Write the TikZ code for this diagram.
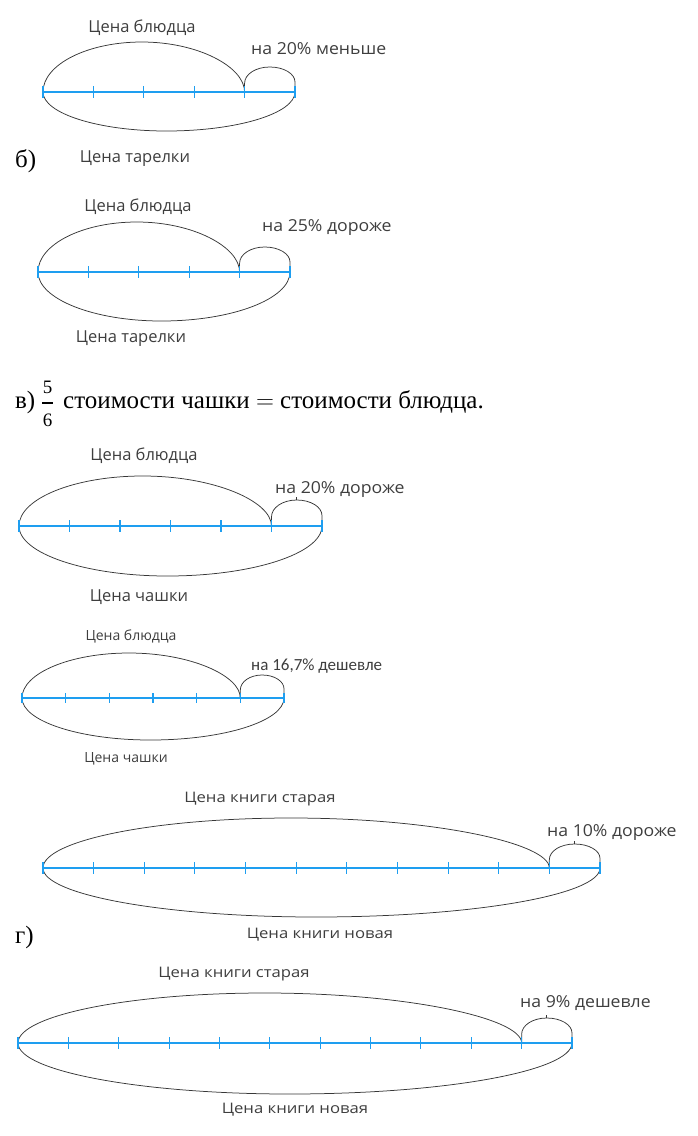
\documentclass[tikz,border=0pt]{standalone}
\usepackage{fontspec}
\setmainfont{Liberation Serif}
\newfontfamily\lblfont{Open Sans}
\newfontfamily\pctfont[FakeStretch=1.07]{Open Sans}
\newfontfamily\widefont[FakeStretch=1.15]{Open Sans}
\newfontfamily\lblcfont{Carlito}
\definecolor{lineblue}{RGB}{30,158,240}
\definecolor{loopgray}{RGB}{55,55,55}
\definecolor{txtgray}{RGB}{62,62,62}
\tikzset{
  loopline/.style={draw=loopgray, line width=0.75pt},
  numline/.style={draw=lineblue, line width=1.6pt},
  tickline/.style={draw=lineblue, line width=1.1pt},
  lab/.style={text=txtgray, font=\lblfont\fontsize{16.5}{18}\selectfont, inner sep=0pt},
  pct/.style={text=txtgray, font=\pctfont\fontsize{16.5}{18}\selectfont, inner sep=0pt},
  labsm/.style={text=txtgray, font=\lblfont\fontsize{14}{16}\selectfont, inner sep=0pt},
  labn/.style={text=txtgray, font=\widefont\fontsize{14.5}{16}\selectfont, inner sep=0pt},
  labc/.style={text=txtgray, font=\lblcfont\fontsize{17}{18}\selectfont, inner sep=0pt},
  serif/.style={text=black, font=\fontsize{25}{28}\selectfont, inner sep=0pt},
  fracdig/.style={text=black, font=\fontsize{19}{20}\selectfont, inner sep=0pt},
  fracbar/.style={draw=black, line width=1.1pt}
}
% #1 name, #2 x0, #3 x1, #4 n, #5 y, #6 ytop, #7 ysmall, #8 ybottom, #9 tick half length
\newcommand{\loopdiag}[9]{%
  \pgfmathsetmacro{\dgD}{(#3-#2)/#4}%
  \pgfmathsetmacro{\dgK}{#3-\dgD}%
  \pgfmathsetmacro{\dgP}{#2+0.49*(\dgK-#2)}%
  \pgfmathsetmacro{\dgQ}{#2+0.49*(#3-#2)}%
  \pgfmathsetmacro{\dgHt}{#5-#6}%
  \pgfmathsetmacro{\dgHb}{#8-#5}%
  \pgfmathsetmacro{\dgHs}{#5-#7}%
  \coordinate (#1L) at (#2,#5);
  \coordinate (#1K) at (\dgK,#5);
  \coordinate (#1R) at (#3,#5);
  \coordinate (#1T) at (\dgP,#6);
  \coordinate (#1B) at (\dgQ,#8);
  \coordinate (#1S) at ({\dgK+0.5*\dgD},#7);
  \draw[loopline] (#1L) .. controls (#2,{#5-0.55*\dgHt}) and ({\dgP-0.55*(\dgP-#2)},#6) .. (#1T)
     .. controls ({\dgP+0.55*(\dgK-\dgP)},#6) and (\dgK,{#5-0.5*\dgHt}) .. (#1K);
  \draw[loopline] (#1L) .. controls (#2,{#5+0.55*\dgHb}) and ({\dgQ-0.55*(\dgQ-#2)},#8) .. (#1B)
     .. controls ({\dgQ+0.55*(#3-\dgQ)},#8) and (#3,{#5+0.55*\dgHb}) .. (#1R);
  \draw[loopline] (#1K) -- (\dgK,{#5-0.35*\dgHs})
     .. controls (\dgK,{#5-0.35*\dgHs-0.36*\dgHs}) and ({\dgK+0.22*\dgD},#7) .. (#1S)
     .. controls ({\dgK+0.78*\dgD},#7) and (#3,{#5-0.4*\dgHs-0.33*\dgHs}) .. (#3,{#5-0.4*\dgHs}) -- (#1R);
  \draw[numline] (#1L) -- (#1R);
  \foreach \i in {0,...,#4} {
    \pgfmathsetmacro{\dgX}{#2+\i*\dgD}
    \draw[tickline] (\dgX,{#5-#9}) -- (\dgX,{#5+#9});
  }
}
\begin{document}
\begin{tikzpicture}[x=1pt,y=-1pt]
\path[use as bounding box] (0,0) rectangle (698,1136);

% ---- b) first diagram
\loopdiag{da}{43}{295}{5}{92}{42}{67}{131}{6}
\node[lab, anchor=base] (da1) at (142,32) {Цена блюдца};
\node[pct, anchor=base west] (da2) at (251,54) {на 20\% меньше};
\node[lab, anchor=base] (da3) at (135,162) {Цена тарелки};
\node[serif, anchor=base west] (hb) at (15,167) {б)};

% ---- b) second diagram
\loopdiag{db}{38}{290}{5}{272}{222}{247}{321}{6}
\node[lab, anchor=base] (db1) at (138,211) {Цена блюдца};
\node[pct, anchor=base west] (db2) at (262,231) {на 25\% дороже};
\node[lab, anchor=base] (db3) at (131,342) {Цена тарелки};

% ---- v) heading
\node[serif, anchor=base west] (hv) at (15,408) {в)};
\node[fracdig] (f5) at (47.5,387) {5};
\node[fracdig] (f6) at (47.5,420) {6};
\coordinate (fa) at (42,403);
\coordinate (fb) at (53,403);
\draw[fracbar] (fa) -- (fb);
\node[serif, anchor=base west] (hvt) at (63,408) {стоимости чашки $=$ стоимости блюдца.};

% ---- v) first diagram
\loopdiag{dc}{19}{322}{6}{526}{476}{500}{576}{6}
\draw[loopline] (dcS) -- ++(0,-3);
\node[lab, anchor=base] (dc1) at (144,460) {Цена блюдца};
\node[pct, anchor=base west] (dc2) at (275,493) {на 20\% дороже};
\node[lab, anchor=base] (dc3) at (139,601) {Цена чашки};

% ---- v) second diagram
\loopdiag{dd}{22}{284}{6}{698}{653}{675}{740}{5}
\node[labsm, anchor=base] (dd1) at (131,640) {Цена блюдца};
\node[labc, anchor=base west] (dd2) at (251,670) {на 16,7\% дешевле};
\node[labsm, anchor=base] (dd3) at (126,762) {Цена чашки};

% ---- g) first diagram
\loopdiag{de}{43}{600}{11}{868}{818}{844}{917}{6}
\draw[loopline] (deS) -- ++(0,-3);
\node[labn, anchor=base] (de1) at (260,802) {Цена книги старая};
\node[pct, anchor=base west] (de2) at (547,836) {на 10\% дороже};
\node[labn, anchor=base] (de3) at (320,938) {Цена книги новая};
\node[serif, anchor=base west] (hg) at (15,943) {г)};

% ---- g) second diagram
\loopdiag{df}{18}{572}{11}{1043}{993}{1018}{1094}{6}
\draw[loopline] (dfS) -- ++(0,-3);
\node[labn, anchor=base] (df1) at (234,977) {Цена книги старая};
\node[pct, anchor=base west] (df2) at (520,1007) {на 9\% дешевле};
\node[labn, anchor=base] (df3) at (295,1113) {Цена книги новая};
\end{tikzpicture}
\end{document}
